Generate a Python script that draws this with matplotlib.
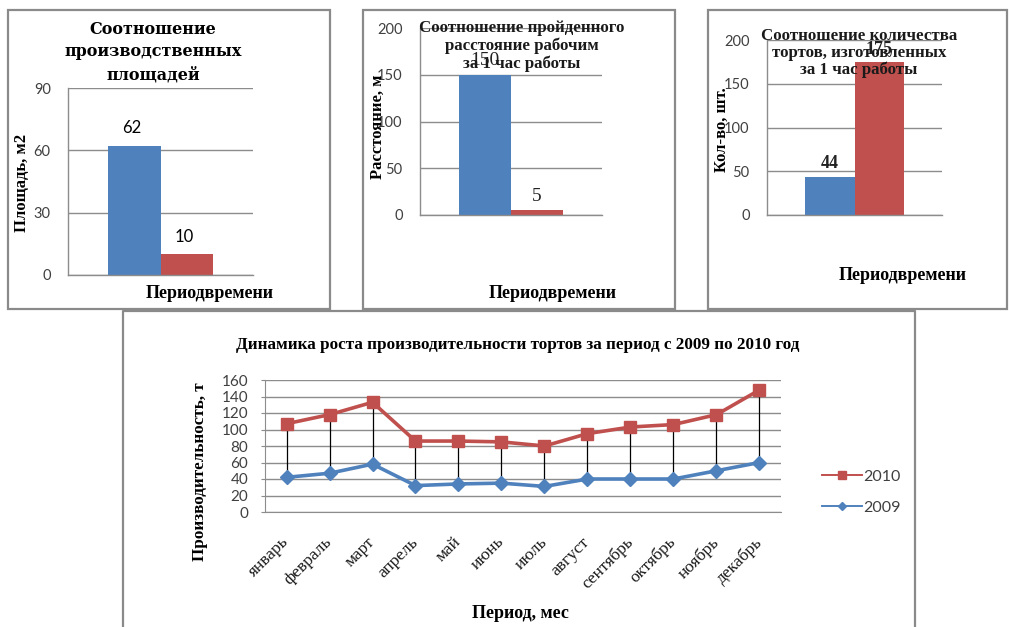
import matplotlib
matplotlib.use("Agg")
import matplotlib.pyplot as plt
from matplotlib.patches import Rectangle
from matplotlib.lines import Line2D

# ---- data -------------------------------------------------------------
area_values = [62, 10]            # производственные площади, м2
area_ticks = [0, 30, 60, 90]

distance_values = [150, 5]        # пройденное расстояние, м
distance_ticks = [0, 50, 100, 150, 200]

cakes_values = [44, 175]          # тортов за 1 час, шт.
cakes_ticks = [0, 50, 100, 150, 200]

months = ["январь", "февраль", "март", "апрель", "май", "июнь",
          "июль", "август", "сентябрь", "октябрь", "ноябрь", "декабрь"]
prod_2010 = [107, 118, 133, 86, 86, 85, 80, 95, 103, 106, 118, 148]
prod_2009 = [42, 47, 58, 32, 34, 35, 31, 40, 40, 40, 50, 60]
prod_ticks = [0, 20, 40, 60, 80, 100, 120, 140, 160]

# ---- style ------------------------------------------------------------
W, H = 1009, 627
BLUE = "#4F81BD"
RED = "#C0504D"
GRID = "#8C8C8C"
BORDER = "#8A8A8A"
TICKC = "#404040"
SERIF = ["Liberation Serif", "DejaVu Serif"]
SANS = ["Lato", "DejaVu Sans"]

fig = plt.figure(figsize=(W / 100, H / 100), dpi=100)
fig.patch.set_facecolor("white")


def px_axes(x0, y0, x1, y1):
    return fig.add_axes([x0 / W, 1 - y1 / H, (x1 - x0) / W, (y1 - y0) / H])


def fx(x):
    return x / W


def fy(y):
    return 1 - y / H


# panel frames
for (x0, y0, x1, y1) in [(8, 10, 330, 309), (363, 10, 675, 309),
                         (708, 10, 1007, 309)]:
    fig.patches.append(Rectangle((fx(x0), fy(y1)), fx(x1 - x0), (y1 - y0) / H,
                                 transform=fig.transFigure, fill=False,
                                 edgecolor=BORDER, lw=1.6))
fig.add_artist(Line2D([fx(123), fx(123), fx(915), fx(915)],
                      [fy(630), fy(311), fy(311), fy(630)],
                      transform=fig.transFigure, color=BORDER, lw=1.6))


def style_bar_axes(ax, ticks):
    ax.set_xlim(-1, 1)
    ax.set_ylim(ticks[0], ticks[-1])
    ax.set_yticks(ticks)
    ax.yaxis.grid(True, color=GRID, lw=1.0)
    ax.set_axisbelow(True)
    ax.set_xticks([])
    for s in ["top", "right"]:
        ax.spines[s].set_visible(False)
    for s in ["left", "bottom"]:
        ax.spines[s].set_color(GRID)
        ax.spines[s].set_linewidth(1.0)
    ax.tick_params(axis="y", length=0, pad=12.5, labelsize=10.5,
                   labelcolor=TICKC)
    for t in ax.get_yticklabels():
        t.set_fontfamily(SANS)
    ax.patch.set_alpha(0)


BW = 0.57


def draw_bars(ax, values):
    xs = [-BW / 2, BW / 2]
    return ax.bar(xs, values, width=BW, color=[BLUE, RED], zorder=2)


# ---- panel 1 ----------------------------------------------------------
ax1 = px_axes(68, 88, 253, 275)
style_bar_axes(ax1, area_ticks)
bars = draw_bars(ax1, area_values)
for b, v in zip(bars, area_values):
    ax1.annotate(f"{v}", (b.get_x() + b.get_width() / 2, v),
                 xytext=(-2, 7), textcoords="offset points", ha="center",
                 va="bottom", fontsize=12, family=SANS, color="black")
fig.text(fx(153), fy(52), "Соотношение\nпроизводственных\nплощадей",
         ha="center", va="center", fontsize=11.5, fontweight="bold",
         fontfamily="DejaVu Serif", linespacing=1.45)
fig.text(fx(22), fy(183), "Площадь, м2", rotation=90, ha="center",
         va="center", fontsize=12, fontweight="bold", family=SERIF)
fig.text(fx(210), fy(293), "Периодвремени", ha="center", va="center",
         fontsize=13, fontweight="bold", family=SERIF)

# ---- panel 2 ----------------------------------------------------------
ax2 = px_axes(420, 28, 602, 215)
style_bar_axes(ax2, distance_ticks)
bars = draw_bars(ax2, distance_values)
for b, v in zip(bars, distance_values):
    ax2.annotate(f"{v}", (b.get_x() + b.get_width() / 2, v),
                 xytext=(0, 4), textcoords="offset points", ha="center",
                 va="bottom", fontsize=14, family=SERIF, color="#222222",
                 zorder=4)
fig.text(fx(522), fy(46), "Соотношение пройденного\nрасстояние рабочим\nза 1 час работы",
         ha="center", va="center", fontsize=12.2, family=SERIF,
         color="#1a1a1a", linespacing=1.08, fontweight="semibold")
fig.text(fx(378), fy(127), "Расстояние, м", rotation=90, ha="center",
         va="center", fontsize=12, fontweight="bold", family=SERIF)
fig.text(fx(553), fy(293), "Периодвремени", ha="center", va="center",
         fontsize=13, fontweight="bold", family=SERIF)

# ---- panel 3 ----------------------------------------------------------
ax3 = px_axes(767, 40, 942, 215)
style_bar_axes(ax3, cakes_ticks)
bars = draw_bars(ax3, cakes_values)
for b, v in zip(bars, cakes_values):
    ax3.annotate(f"{v}", (b.get_x() + b.get_width() / 2, v),
                 xytext=(0, 3), textcoords="offset points", ha="center",
                 va="bottom", fontsize=13, family=SERIF, color="#222222",
                 fontweight="bold", zorder=4)
fig.text(fx(859), fy(53), "Соотношение количества\nтортов, изготовленных\nза 1 час работы",
         ha="center", va="center", fontsize=12.2, family=SERIF,
         color="#1a1a1a", linespacing=1.08, fontweight="semibold")
fig.text(fx(722), fy(130), "Кол-во, шт.", rotation=90, ha="center",
         va="center", fontsize=12, fontweight="bold", family=SERIF)
fig.text(fx(903), fy(275), "Периодвремени", ha="center", va="center",
         fontsize=13, fontweight="bold", family=SERIF)

# ---- bottom line chart ------------------------------------------------
ax4 = px_axes(265, 380, 781, 512)
x = list(range(len(months)))
ax4.set_xlim(-0.5, len(months) - 0.5)
ax4.set_ylim(prod_ticks[0], prod_ticks[-1])
ax4.set_yticks(prod_ticks)
ax4.yaxis.grid(True, color=GRID, lw=1.0)
ax4.set_axisbelow(True)
for s in ["top", "right"]:
    ax4.spines[s].set_visible(False)
for s in ["left", "bottom"]:
    ax4.spines[s].set_color(GRID)
ax4.tick_params(axis="y", length=3, color=GRID, pad=9, labelsize=11,
                labelcolor=TICKC)
for t in ax4.get_yticklabels():
    t.set_fontfamily(SANS)
ax4.set_xticks(x)
ax4.set_xticklabels(months, rotation=45, ha="right", va="center",
                    rotation_mode="anchor", fontsize=12.5, family=SERIF,
                    color="#1a1a1a")
ax4.tick_params(axis="x", length=0, pad=20)
ax4.patch.set_alpha(0)

# high-low lines between the two years
ax4.vlines(x, prod_2009, prod_2010, color="black", lw=0.9, zorder=2)
l10, = ax4.plot(x, prod_2010, color=RED, lw=2.6, marker="s", markersize=9,
                label="2010", zorder=3)
l09, = ax4.plot(x, prod_2009, color=BLUE, lw=2.6, marker="D", markersize=7,
                label="2009", zorder=3)

leg = fig.legend(handles=[
    Line2D([], [], color=RED, lw=1.4, marker="s", markersize=6),
    Line2D([], [], color=BLUE, lw=1.4, marker="D", markersize=4.5)],
    labels=["2010", "2009"], loc="center left",
    bbox_to_anchor=(fx(814), fy(492)), frameon=False, handlelength=2.5,
    handletextpad=0.1, labelspacing=1.05, borderpad=0,
    prop={"family": SANS, "size": 11.5})
for t in leg.get_texts():
    t.set_color(TICKC)

fig.text(fx(518), fy(345),
         "Динамика роста производительности тортов за период с 2009 по 2010 год",
         ha="center", va="center", fontsize=12.3, fontweight="bold",
         family=SERIF)
fig.text(fx(200), fy(472), "Производительность, т", rotation=90,
         ha="center", va="center", fontsize=12.3, fontweight="bold",
         family=SERIF)
fig.text(fx(520), fy(614), "Период, мес", ha="center", va="center",
         fontsize=13, fontweight="bold", family=SERIF)

fig.savefig("out.png", dpi=100, facecolor="white")
